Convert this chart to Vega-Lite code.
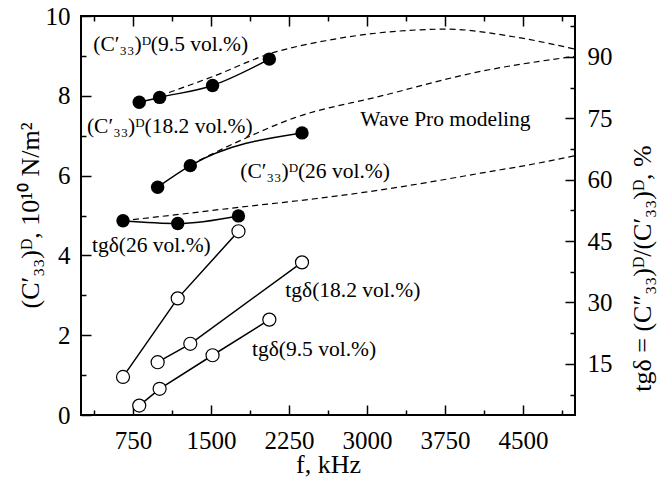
{
  "$schema": "https://vega.github.io/schema/vega-lite/v6.json",
  "width": 494,
  "height": 399,
  "autosize": {"type": "none"},
  "padding": {"left": 81, "top": 16, "right": 86, "bottom": 69},
  "background": "white",
  "config": {
    "view": {"stroke": "black", "strokeWidth": 2},
    "font": "Liberation Serif",
    "axis": {
      "domain": false,
      "grid": false,
      "labelFont": "Liberation Serif",
      "labelFontSize": 25,
      "labelColor": "black",
      "titleFont": "Liberation Serif",
      "titleFontSize": 26,
      "titleFontWeight": "normal",
      "titleColor": "black",
      "tickColor": "black",
      "tickWidth": 1.5,
      "format": "d"
    }
  },
  "datasets": {
    "c33": [
      {"f": 810, "c": 7.84, "series": "9.5"},
      {"f": 1006, "c": 7.96, "series": "9.5"},
      {"f": 1515, "c": 8.26, "series": "9.5"},
      {"f": 2061, "c": 8.92, "series": "9.5"},
      {"f": 987, "c": 5.71, "series": "18.2"},
      {"f": 1301, "c": 6.25, "series": "18.2"},
      {"f": 2375, "c": 7.07, "series": "18.2"},
      {"f": 654, "c": 4.87, "series": "26"},
      {"f": 1180, "c": 4.80, "series": "26"},
      {"f": 1764, "c": 4.99, "series": "26"}
    ],
    "tg": [
      {"f": 654, "tg": 11.8, "series": "26"},
      {"f": 1180, "tg": 31.0, "series": "26"},
      {"f": 1764, "tg": 47.4, "series": "26"},
      {"f": 987, "tg": 15.4, "series": "18.2"},
      {"f": 1301, "tg": 19.9, "series": "18.2"},
      {"f": 2375, "tg": 39.8, "series": "18.2"},
      {"f": 810, "tg": 4.8, "series": "9.5"},
      {"f": 1006, "tg": 8.9, "series": "9.5"},
      {"f": 1515, "tg": 17.1, "series": "9.5"},
      {"f": 2061, "tg": 25.8, "series": "9.5"}
    ],
    "model": [
      {"f": 1006, "c": 8.0, "series": "9.5"},
      {"f": 1515, "c": 8.48, "series": "9.5"},
      {"f": 2061, "c": 9.05, "series": "9.5"},
      {"f": 2600, "c": 9.38, "series": "9.5"},
      {"f": 3127, "c": 9.58, "series": "9.5"},
      {"f": 3768, "c": 9.67, "series": "9.5"},
      {"f": 4409, "c": 9.48, "series": "9.5"},
      {"f": 5000, "c": 9.17, "series": "9.5"},
      {"f": 1301, "c": 6.27, "series": "18.2"},
      {"f": 1800, "c": 6.9, "series": "18.2"},
      {"f": 2294, "c": 7.44, "series": "18.2"},
      {"f": 3128, "c": 7.99, "series": "18.2"},
      {"f": 4090, "c": 8.61, "series": "18.2"},
      {"f": 5000, "c": 8.99, "series": "18.2"},
      {"f": 654, "c": 4.87, "series": "26"},
      {"f": 1200, "c": 5.03, "series": "26"},
      {"f": 1782, "c": 5.21, "series": "26"},
      {"f": 2500, "c": 5.42, "series": "26"},
      {"f": 3128, "c": 5.64, "series": "26"},
      {"f": 3608, "c": 5.84, "series": "26"},
      {"f": 4090, "c": 6.06, "series": "26"},
      {"f": 4600, "c": 6.29, "series": "26"},
      {"f": 5000, "c": 6.5, "series": "26"}
    ],
    "labels": [
      {"f": 368, "c": 9.27, "text": "(C′₃₃)ᴰ(9.5 vol.%)"},
      {"f": 307, "c": 7.23, "text": "(C′₃₃)ᴰ(18.2 vol.%)"},
      {"f": 1782, "c": 6.08, "text": "(C′₃₃)ᴰ(26 vol.%)"},
      {"f": 2936, "c": 7.40, "text": "Wave Pro modeling"},
      {"f": 355, "c": 4.23, "text": "tgδ(26 vol.%)"},
      {"f": 2215, "c": 3.12, "text": "tgδ(18.2 vol.%)"},
      {"f": 1894, "c": 1.62, "text": "tgδ(9.5 vol.%)"}
    ]
  },
  "layer": [
    {
      "layer": [
        {
          "data": {"name": "model"},
          "mark": {"type": "line", "color": "black", "strokeWidth": 1.2, "strokeDash": [6, 4], "interpolate": "monotone"},
          "encoding": {
            "x": {"field": "f", "type": "quantitative", "scale": {"domain": [250, 5000], "nice": false, "zero": false},
                  "axis": {"orient": "bottom", "values": [750, 1500, 2250, 3000, 3750, 4500], "tickSize": -10, "labelPadding": 23, "format": "d",
                           "title": "f, kHz", "titleY": 57, "titleBaseline": "alphabetic"}},
            "y": {"field": "c", "type": "quantitative", "scale": {"domain": [0, 10], "nice": false, "zero": false},
                  "axis": {"orient": "left", "values": [0, 2, 4, 6, 8, 10], "tickSize": -10, "labelPadding": 21, "format": "d",
                           "title": "(C′₃₃)ᴰ, 10¹⁰ N/m²", "titleAngle": 270, "titleX": -51, "titleY": 199,
                           "titleAlign": "center", "titleBaseline": "middle"}},
            "detail": {"field": "series"}
          }
        },
        {
          "data": {"name": "c33"},
          "mark": {"type": "line", "color": "black", "strokeWidth": 1.5, "interpolate": "monotone"},
          "encoding": {
            "x": {"field": "f", "type": "quantitative", "scale": {"domain": [250, 5000], "nice": false, "zero": false},
                  "axis": {"orient": "bottom", "values": [375, 1125, 1875, 2625, 3375, 4125, 4875], "tickSize": -5, "labels": false, "title": null}},
            "y": {"field": "c", "type": "quantitative", "scale": {"domain": [0, 10], "nice": false, "zero": false},
                  "axis": {"orient": "left", "values": [1, 3, 5, 7, 9], "tickSize": -5, "labels": false, "title": null}},
            "detail": {"field": "series"}
          }
        },
        {
          "data": {"name": "c33"},
          "mark": {"type": "point", "shape": "circle", "filled": true, "color": "black", "size": 180, "opacity": 1},
          "encoding": {
            "x": {"field": "f", "type": "quantitative", "scale": {"domain": [250, 5000], "nice": false, "zero": false},
                  "axis": {"orient": "top", "values": [750, 1500, 2250, 3000, 3750, 4500], "tickSize": -10, "labels": false, "title": null}},
            "y": {"field": "c", "type": "quantitative", "scale": {"domain": [0, 10], "nice": false, "zero": false}, "axis": null}
          }
        },
        {
          "data": {"name": "labels"},
          "mark": {"type": "text", "align": "left", "baseline": "middle", "fontSize": 21.5, "font": "Liberation Serif", "color": "black"},
          "encoding": {
            "x": {"field": "f", "type": "quantitative", "scale": {"domain": [250, 5000], "nice": false, "zero": false},
                  "axis": {"orient": "top", "values": [375, 1125, 1875, 2625, 3375, 4125, 4875], "tickSize": -5, "labels": false, "title": null}},
            "y": {"field": "c", "type": "quantitative", "scale": {"domain": [0, 10], "nice": false, "zero": false}, "axis": null},
            "text": {"field": "text"}
          }
        }
      ],
      "resolve": {"axis": {"x": "independent", "y": "independent"}}
    },
    {
      "layer": [
        {
          "data": {"name": "tg"},
          "mark": {"type": "line", "color": "black", "strokeWidth": 1.5},
          "encoding": {
            "x": {"field": "f", "type": "quantitative", "scale": {"domain": [250, 5000], "nice": false, "zero": false}, "axis": null},
            "y": {"field": "tg", "type": "quantitative", "scale": {"domain": [2.5, 100], "nice": false, "zero": false},
                  "axis": {"orient": "right", "values": [15, 30, 45, 60, 75, 90], "tickSize": -10, "labelPadding": 22, "format": "d",
                           "title": "tgδ = (C″₃₃)ᴰ/(C′₃₃)ᴰ, %", "titleAngle": 270, "titleX": 67, "titleY": 252,
                           "titleAlign": "center", "titleBaseline": "middle"}},
            "detail": {"field": "series"}
          }
        },
        {
          "data": {"name": "tg"},
          "mark": {"type": "point", "shape": "circle", "filled": true, "fill": "white", "stroke": "black", "strokeWidth": 1.2, "size": 170, "opacity": 1},
          "encoding": {
            "x": {"field": "f", "type": "quantitative", "scale": {"domain": [250, 5000], "nice": false, "zero": false}, "axis": null},
            "y": {"field": "tg", "type": "quantitative", "scale": {"domain": [2.5, 100], "nice": false, "zero": false},
                  "axis": {"orient": "right", "values": [7.5, 22.5, 37.5, 52.5, 67.5, 82.5, 97.5], "tickSize": -5, "labels": false, "title": null}}
          }
        }
      ],
      "resolve": {"axis": {"x": "independent", "y": "independent"}}
    }
  ],
  "resolve": {"scale": {"y": "independent"}, "axis": {"x": "independent", "y": "independent"}}
}
